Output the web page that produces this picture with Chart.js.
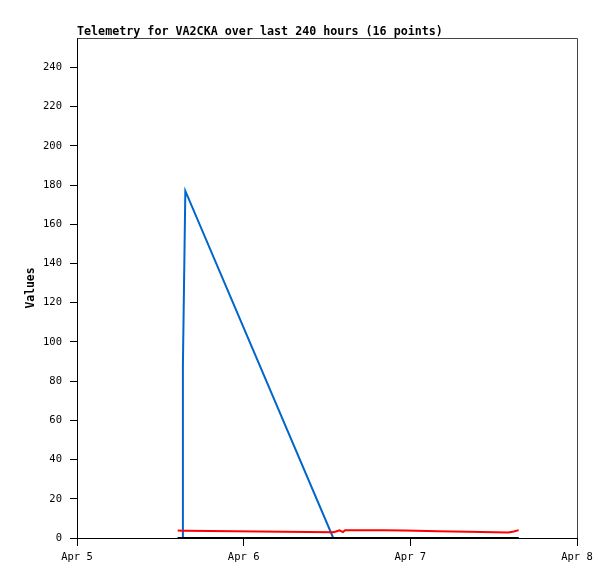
<!DOCTYPE html>
<html>
<head>
<meta charset="utf-8">
<script src="https://cdn.jsdelivr.net/npm/chart.js@4/dist/chart.umd.min.js"></script>
<style>
  html, body { margin: 0; padding: 0; background: #fff; }
  canvas { display: block; }
</style>
</head>
<body>
<canvas id="chart" width="615" height="579"></canvas>
<script>
const titleText = "Telemetry for VA2CKA over last 240 hours (16 points)";
const yTitle = "Values";
const dayLabels = ["Apr 5", "Apr 6", "Apr 7", "Apr 8"];

// hours since Apr 5 00:00
const hours = [14.5, 15.2, 15.25, 15.6, 36.9, 37.3, 37.8, 38.3, 38.6, 44.0, 47.2, 52.0, 56.3, 62.1, 62.9, 63.6];
const blackValues = [0, 0, 0, 0, 0, 0, 0, 0, 0, 0, 0, 0, 0, 0, 0, 0];
const redValues = [3.8, 3.7, 3.7, 3.7, 2.9, 3.3, 3.9, 3.0, 3.9, 3.9, 3.8, 3.5, 3.2, 2.8, 3.3, 4.0];
const blueValues = [0, 0, 88, 177, 0, 0, 0, 0, 0, 0, 0, 0, 0, 0, 0, 0];

const mono = '"DejaVu Sans Mono", "Liberation Mono", monospace';

function points(values) {
  return values.map((v, i) => ({ x: hours[i], y: v }));
}

const frame = {
  id: "frame",
  beforeDatasetsDraw(chart) {
    const { ctx, chartArea: a } = chart;
    ctx.save();
    ctx.strokeStyle = "#444";
    ctx.lineWidth = 1;
    ctx.beginPath();
    ctx.moveTo(a.left + 0.5, a.top + 0.5);
    ctx.lineTo(a.right + 0.5, a.top + 0.5);
    ctx.lineTo(a.right + 0.5, a.bottom);
    ctx.stroke();
    ctx.restore();
  },
  afterDraw(chart) {
    const { ctx, chartArea: a } = chart;
    ctx.save();
    ctx.font = "bold 11.7px " + mono;
    ctx.fillStyle = "#000";
    ctx.textBaseline = "alphabetic";
    ctx.fillText(titleText, a.left, a.top - 3);
    ctx.restore();
  }
};

const line = (values, color) => ({
  data: points(values),
  borderColor: color,
  borderWidth: 2,
  pointRadius: 0,
  tension: 0,
  fill: false
});

new Chart(document.getElementById("chart"), {
  type: "line",
  data: {
    datasets: [
      line(blackValues, "#000000"),
      line(redValues, "#ff0000"),
      line(blueValues, "#0066cc")
    ]
  },
  options: {
    responsive: false,
    animation: false,
    devicePixelRatio: 1,
    layout: { padding: { top: 38, right: 38, left: 24, bottom: 0 } },
    plugins: { legend: { display: false }, tooltip: { enabled: false } },
    scales: {
      x: {
        type: "linear",
        min: 0,
        max: 72,
        afterFit: (s) => { s.height = 41; },
        ticks: {
          stepSize: 24,
          maxRotation: 0,
          padding: 5,
          color: "#000",
          font: { family: mono, size: 10.5 },
          callback: (v) => dayLabels[v / 24]
        },
        grid: { drawOnChartArea: false, tickLength: 8, color: "#000" },
        border: { display: true, color: "#000" }
      },
      y: {
        min: 0,
        max: 255,
        afterFit: (s) => { s.width = 53; },
        afterBuildTicks: (s) => { s.ticks = s.ticks.filter((t) => t.value % 20 === 0); },
        ticks: {
          stepSize: 20,
          padding: 8,
          color: "#000",
          font: { family: mono, size: 10.5 }
        },
        grid: { drawOnChartArea: false, tickLength: 7, color: "#000" },
        border: { display: true, color: "#000" },
        title: {
          display: true,
          text: yTitle,
          color: "#000",
          padding: 0,
          font: { family: mono, size: 11.4, weight: "bold" }
        }
      }
    }
  },
  plugins: [frame]
});
</script>
</body>
</html>
